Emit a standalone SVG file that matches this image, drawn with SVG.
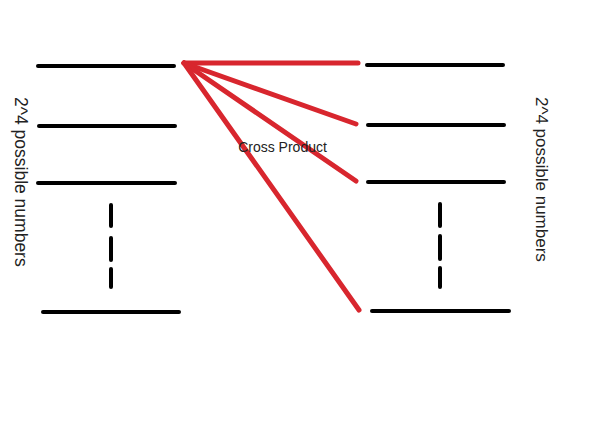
<svg xmlns="http://www.w3.org/2000/svg" width="600" height="423" viewBox="0 0 600 423">
<style>
.bar{stroke:#000;stroke-width:4;stroke-linecap:round;fill:none}
.red{stroke:#d8262e;stroke-width:5;stroke-linecap:round;fill:none}
.lbl{font-family:"Liberation Sans",Arial,sans-serif;fill:#222}
</style>
<rect width="600" height="423" fill="#fff"/>
<g id="left-set">
<line class="bar" x1="38" y1="66" x2="174" y2="66"/>
<line class="bar" x1="39" y1="126" x2="175" y2="126"/>
<line class="bar" x1="38" y1="183" x2="175" y2="183"/>
<line class="bar" x1="43" y1="312" x2="179" y2="312"/>
<line class="bar" x1="111" y1="205" x2="111" y2="226"/>
<line class="bar" x1="111" y1="238" x2="111" y2="260"/>
<line class="bar" x1="111" y1="269" x2="111" y2="287"/>
<text class="lbl" font-size="17.5" transform="translate(15,97) rotate(90)">2^4 possible numbers</text>
</g>
<g id="right-set">
<line class="bar" x1="367" y1="65" x2="503" y2="65"/>
<line class="bar" x1="368" y1="125" x2="504" y2="125"/>
<line class="bar" x1="368" y1="182" x2="504" y2="182"/>
<line class="bar" x1="372" y1="311" x2="509" y2="311"/>
<line class="bar" x1="440" y1="204" x2="440" y2="226"/>
<line class="bar" x1="440" y1="236" x2="440" y2="259"/>
<line class="bar" x1="440" y1="268" x2="440" y2="287"/>
<text class="lbl" font-size="17" transform="translate(536,97) rotate(90)">2^4 possible numbers</text>
</g>
<g id="connectors">
<line class="red" x1="184" y1="63" x2="358" y2="63"/>
<line class="red" x1="184" y1="63" x2="356" y2="124"/>
<line class="red" x1="184" y1="63" x2="356" y2="181"/>
<line class="red" x1="184" y1="63" x2="359" y2="310"/>
</g>
<g id="label">
<text class="lbl" font-size="14" x="282.5" y="152" text-anchor="middle">Cross Product</text>
</g>
</svg>
